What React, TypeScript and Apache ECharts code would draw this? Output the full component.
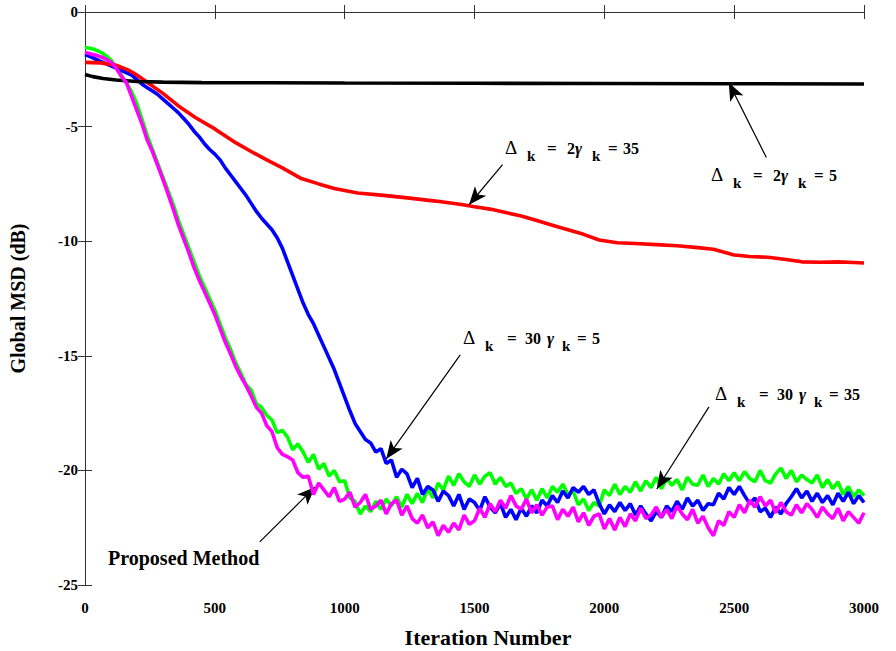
import React, { useEffect, useRef } from "react";
import * as echarts from "echarts";

// Sampling grid of the three noisy curves (iterations)
const ITER = Array.from({ length: 151 }, (_, i) => i * 20);

// Δk=30, γk=35 (green)
const GREEN = [
  -1.55, -1.58, -1.65, -1.75, -1.9, -2.1, -2.4, -2.75, -3.1, -3.5,
  -4.0, -4.7, -5.4, -6.0, -6.6, -7.2, -7.8, -8.4, -9.1, -9.7,
  -10.3, -10.9, -11.5, -12.0, -12.5, -13.0, -13.6, -14.2, -14.7, -15.3,
  -15.75, -16.25, -16.5, -17.1, -17.25, -17.6,
  -17.8, -18.35, -18.25, -18.55, -19.1, -18.85, -19.2, -19.65, -19.3, -19.95,
  -19.7, -20.25, -20.0, -20.5, -20.45, -21.2, -21.35, -21.9, -21.55, -21.8,
  -21.35, -21.7, -21.25, -21.55, -21.15, -21.6, -21.05, -21.45, -21.0, -21.4,
  -20.8, -21.2, -20.55, -20.85, -20.25, -20.65, -20.15, -20.5, -20.7, -20.2,
  -20.6, -20.25, -20.1, -20.6, -20.3, -20.7, -20.55, -21.0, -20.8, -21.25,
  -20.85, -21.3, -20.8, -21.2, -20.7, -20.95, -20.6, -21.05, -20.9, -21.5,
  -21.25, -21.75, -21.4, -21.55, -20.85, -21.1, -20.6, -21.05, -20.7, -20.95,
  -20.5, -20.9, -20.45, -20.75, -20.3, -20.8, -20.35, -20.65, -20.4, -20.85,
  -20.3, -20.6, -20.65, -20.2, -20.7, -20.35, -20.6, -20.15, -20.45, -20.1,
  -20.45, -20.05, -20.35, -20.5, -20.0, -20.45, -20.55, -20.15, -19.9, -20.35,
  -20.0, -20.5, -20.2, -20.4, -20.55, -20.2, -20.75, -20.4, -20.8, -20.5,
  -21.05, -20.7, -21.15, -20.85, -21.1,
];

// Δk=30, γk=5 (blue)
const BLUE = [
  -1.86, -1.95, -2.05, -2.15, -2.25, -2.35, -2.45, -2.55, -2.65, -2.75,
  -2.95, -3.15, -3.3, -3.45, -3.6, -3.8, -4.0, -4.2, -4.4, -4.65,
  -4.9, -5.2, -5.45, -5.75, -6.0, -6.2, -6.45, -6.8, -7.1, -7.4,
  -7.7, -8.0, -8.35, -8.7, -9.0, -9.25, -9.5, -9.85, -10.3, -10.9,
  -11.5, -12.1, -12.7, -13.2, -13.6, -14.1, -14.6, -15.1, -15.6, -16.2,
  -16.8, -17.4, -17.95, -18.3, -18.65,
  -18.8, -19.2, -19.05, -19.7, -19.55, -20.3, -19.95, -20.15, -20.75, -20.35,
  -21.05, -20.7, -20.85, -21.35, -20.9, -21.1, -21.55, -21.05, -21.7, -21.25,
  -21.4, -21.75, -21.15, -21.6, -21.85, -21.45, -22.05, -21.7, -22.15, -21.65,
  -22.0, -21.55, -21.85, -21.3, -21.55, -21.1, -21.4, -20.9, -21.2, -20.75,
  -20.95, -20.7, -21.05, -20.85, -21.45, -21.9, -21.5, -21.8, -21.4, -21.75,
  -21.45, -21.95, -21.55, -21.9, -22.2, -21.8, -22.05, -21.55, -21.8, -21.35,
  -21.7, -21.2, -21.55, -21.3, -21.75, -21.45, -21.5, -21.0, -21.25, -20.75,
  -21.05, -20.7, -21.1, -21.45, -21.2, -21.8, -21.65, -22.05, -21.6, -21.9,
  -21.45, -21.15, -20.8, -21.2, -20.9, -21.35, -21.0, -21.4, -21.1, -21.5,
  -21.0, -21.35, -20.95, -21.45, -21.1, -21.4,
];

// Proposed method (magenta)
const MAGENTA = [
  -1.77, -1.82, -1.88, -1.95, -2.05, -2.18, -2.45, -2.8, -3.1, -3.7,
  -4.3, -4.9, -5.6, -6.1, -6.7, -7.3, -7.95, -8.6, -9.3, -9.9,
  -10.5, -11.15, -11.7, -12.2, -12.7, -13.2, -13.8, -14.4, -14.9, -15.45,
  -15.9, -16.3, -16.75, -17.25, -17.5, -18.05,
  -18.3, -19.0, -19.3, -19.4, -19.55, -20.1, -20.3, -20.25, -21.05, -20.55,
  -20.85, -21.15, -20.75, -21.35, -21.25, -20.95, -21.6, -21.4, -21.05, -21.7,
  -21.55, -21.3, -21.9, -21.45, -21.3, -21.95, -21.55, -22.1, -22.3, -21.95,
  -22.5, -22.25, -22.85, -22.4, -22.7, -22.3, -22.6, -21.95, -22.35, -22.2,
  -21.65, -22.05, -21.45, -21.8, -21.3, -21.65, -21.1, -21.55, -21.7, -21.25,
  -21.85, -21.5, -21.95, -21.6, -21.55, -22.15, -21.7, -22.0, -21.6, -22.25,
  -21.85, -22.4, -22.0, -21.9, -22.55, -22.1, -22.6, -22.05, -22.45, -21.9,
  -22.2, -21.65, -22.1, -21.95, -21.6, -22.05, -21.7, -22.1, -21.55, -21.9,
  -22.15, -21.7, -22.3, -22.0, -22.5, -22.85, -22.2, -22.4, -21.8, -22.05,
  -21.5, -21.85, -21.3, -21.6, -21.15, -21.55, -21.3, -21.85, -21.4, -21.8,
  -21.95, -21.5, -21.85, -21.45, -21.7, -22.05, -21.6, -21.9, -22.1, -21.65,
  -22.2, -21.8, -22.05, -22.3, -21.85,
];

// Δk=2γk=35 (red)
const RED_X = [0, 60, 120, 170, 200, 250, 300, 360, 425, 500, 580, 650, 700, 760, 830, 900, 960, 1050, 1150, 1250, 1350, 1450, 1500, 1560, 1620, 1680, 1740, 1800, 1860, 1920, 1980, 2050, 2120, 2200, 2280, 2360, 2420, 2500, 2560, 2630, 2700, 2760, 2830, 2900, 2960, 3000];
const RED_Y = [-2.2, -2.22, -2.32, -2.55, -2.75, -3.15, -3.55, -4.1, -4.6, -5.1, -5.7, -6.15, -6.45, -6.8, -7.25, -7.5, -7.7, -7.9, -8.0, -8.12, -8.25, -8.4, -8.5, -8.6, -8.75, -8.9, -9.1, -9.3, -9.5, -9.7, -9.95, -10.07, -10.1, -10.15, -10.2, -10.28, -10.35, -10.6, -10.67, -10.7, -10.8, -10.9, -10.92, -10.9, -10.93, -10.95];

// Δk=2γk=5 (black)
const BLACK_X = [0, 30, 70, 120, 200, 300, 450, 700, 1000, 1500, 2000, 2500, 3000];
const BLACK_Y = [-2.73, -2.82, -2.9, -2.97, -3.03, -3.06, -3.08, -3.09, -3.1, -3.11, -3.12, -3.13, -3.14];

// Arrow annotations: [tailX, tailY, tipX, tipY]
const ARROWS = [
  [2624, -6.35, 2479, -3.08],
  [1608, -6.66, 1479, -8.41],
  [1445, -14.96, 1160, -19.5],
  [2403, -17.23, 2202, -20.81],
  [673, -23.12, 886, -20.72],
];

const X_TICKS = ["0", "500", "1000", "1500", "2000", "2500", "3000"];

const FONT = '"Liberation Serif", "Times New Roman", serif';

function pairs(xs: number[], ys: number[]) {
  return xs.map((x, i) => [x, ys[i]]);
}

type Part = { dx: number; dy: number; text: string; size: number; weight?: string; style?: string };

function label(x: number, y: number, parts: Part[]) {
  return {
    type: "group",
    x,
    y,
    silent: true,
    children: parts.map((p) => ({
      type: "text",
      x: p.dx,
      y: p.dy,
      style: {
        text: p.text,
        fontSize: p.size,
        fontWeight: p.weight || "bold",
        fontStyle: p.style || "normal",
        fontFamily: FONT,
        fill: "#000",
        align: "left",
        verticalAlign: "middle",
      },
    })),
  };
}

function deltaLabel(x: number, y: number, dv: string, gv: string, wide: boolean) {
  const o = wide
    ? { k1: 22, eq: 44, n: 62, g: 84, k2: 99, eq2: 114, v: 129 }
    : { k1: 22, eq: 42, n: 62, g: 70, k2: 87, eq2: 103, v: 118 };
  return label(x, y, [
    { dx: 0, dy: 0, text: "Δ", size: 19, weight: "normal" },
    { dx: o.k1, dy: 9, text: "k", size: 15 },
    { dx: o.eq, dy: 1, text: "=", size: 17 },
    { dx: o.n, dy: 1, text: dv, size: 16 },
    { dx: o.g, dy: 1, text: "γ", size: 17, style: "italic" },
    { dx: o.k2, dy: 9, text: "k", size: 15 },
    { dx: o.eq2, dy: 1, text: "=", size: 17 },
    { dx: o.v, dy: 1, text: gv, size: 16 },
  ]);
}

export default function App() {
  const ref = useRef<HTMLDivElement>(null);
  useEffect(() => {
    document.body.style.margin = "0";
    if (!ref.current) return;
    const chart = echarts.init(ref.current, undefined, { renderer: "svg" });
    const axisLine = { show: true, lineStyle: { color: "#333", width: 1 } };
    const tick = { show: true, inside: true, length: 7, lineStyle: { color: "#333", width: 1 } };
    const lineSeries = (name: string, data: number[][], color: string, z: number) => ({
      name,
      type: "line",
      data,
      showSymbol: false,
      symbol: "none",
      lineStyle: { color, width: 3.6 },
      itemStyle: { color },
      z,
      silent: true,
    });
    const mag: any = lineSeries("Proposed Method", pairs(ITER, MAGENTA), "#ff00ff", 6);
    mag.markLine = {
      silent: true,
      symbol: ["none", "arrow"],
      symbolSize: [11, 18],
      label: { show: false },
      lineStyle: { color: "#000", width: 1.2, type: "solid" },
      itemStyle: { color: "#000" },
      emphasis: { disabled: true },
      data: ARROWS.map((a) => [{ coord: [a[0], a[1]] }, { coord: [a[2], a[3]] }]),
    };
    chart.setOption({
      animation: false,
      backgroundColor: "#fff",
      grid: { left: 75, right: 32, top: 12, bottom: 66, containLabel: false },
      xAxis: [
        {
          type: "value",
          min: 0,
          max: 3000,
          interval: 500,
          axisLine,
          axisTick: tick,
          splitLine: { show: false },
          axisLabel: {
            color: "#000",
            fontFamily: FONT,
            fontWeight: "bold",
            fontSize: 15,
            margin: 15,
            formatter: (v: number) => X_TICKS[Math.round(v / 500)] ?? String(v),
          },
        },
        {
          type: "value",
          position: "top",
          min: 0,
          max: 3000,
          interval: 500,
          axisLine,
          axisTick: tick,
          splitLine: { show: false },
          axisLabel: { show: false },
        },
      ],
      yAxis: [
        {
          type: "value",
          min: -25,
          max: 0,
          interval: 5,
          axisLine,
          axisTick: tick,
          splitLine: { show: false },
          name: "Global MSD (dB)",
          nameLocation: "middle",
          nameGap: 57,
          nameTextStyle: { color: "#000", fontFamily: FONT, fontWeight: "bold", fontSize: 20 },
          axisLabel: {
            color: "#000",
            fontFamily: FONT,
            fontWeight: "bold",
            fontSize: 15,
            margin: 7,
            padding: [6, 0, 0, 0],
          },
        },
        {
          type: "value",
          position: "right",
          min: -25,
          max: 0,
          interval: 5,
          axisLine,
          axisTick: tick,
          splitLine: { show: false },
          axisLabel: { show: false },
        },
      ],
      series: [
        lineSeries("Δk=30, γk=35", pairs(ITER, GREEN), "#00ff00", 2),
        lineSeries("Δk=30, γk=5", pairs(ITER, BLUE), "#0000ff", 3),
        lineSeries("Δk=2γk=35", pairs(RED_X, RED_Y), "#ff0000", 4),
        lineSeries("Δk=2γk=5", pairs(BLACK_X, BLACK_Y), "#000000", 5),
        mag,
      ],
      graphic: [
        {
          type: "text",
          x: 488,
          y: 637,
          silent: true,
          style: {
            text: "Iteration Number",
            fontSize: 22,
            fontWeight: "bold",
            fontFamily: FONT,
            fill: "#000",
            align: "center",
            verticalAlign: "middle",
          },
        },
        deltaLabel(505, 147, "2", "35", false),
        deltaLabel(711, 174, "2", "5", false),
        deltaLabel(463, 337, "30", "5", true),
        deltaLabel(715, 393, "30", "35", true),
        label(108, 558, [{ dx: 0, dy: 0, text: "Proposed Method", size: 20 }]),
      ],
    });
    return () => chart.dispose();
  }, []);
  return <div ref={ref} style={{ width: 896, height: 651 }} />;
}
